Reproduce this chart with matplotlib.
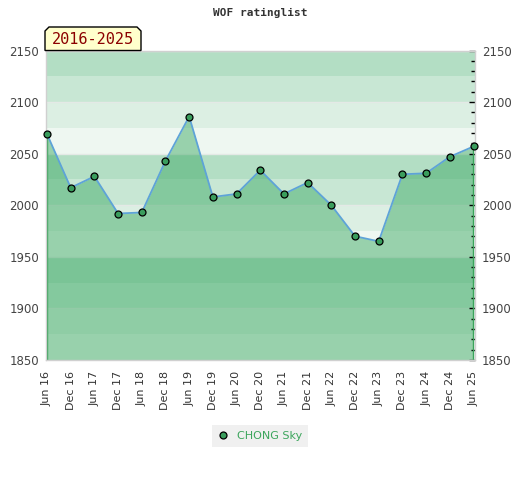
import matplotlib.pyplot as plt
from matplotlib.lines import Line2D
from matplotlib.patches import Polygon
from matplotlib.ticker import MultipleLocator

# data
periods = ['Jun 16', 'Dec 16', 'Jun 17', 'Dec 17', 'Jun 18', 'Dec 18', 'Jun 19',
           'Dec 19', 'Jun 20', 'Dec 20', 'Jun 21', 'Dec 21', 'Jun 22', 'Dec 22',
           'Jun 23', 'Dec 23', 'Jun 24', 'Dec 24', 'Jun 25']
rating = [2069, 2017, 2028, 1992, 1993, 2043, 2086, 2008, 2011, 2034, 2011,
          2022, 2000, 1970, 1965, 2030, 2031, 2047, 2057]
player = 'CHONG Sky'
span_label = '2016-2025'
title = 'WOF ratinglist'
ymin, ymax = 1850, 2150

band_cols = ['#b3dec4', '#c8e7d4', '#dcefe3', '#eef7f1']

fig = plt.figure(figsize=(5.2, 4.8), dpi=100)
ax = fig.add_axes([46 / 520, 1 - 360 / 480, 429 / 520, 309.5 / 480])

x = list(range(len(periods)))

# background bands, 25 points each, cycle from the top
lo = ymax
i = 0
while lo > ymin:
    ax.axhspan(lo - 25, lo, color=band_cols[i % 4], lw=0, zorder=0)
    lo -= 25
    i += 1
for g in range(ymin, ymax + 1, 50):
    ax.axhline(g, color='#e4e9e6', lw=1, zorder=0.5)

ax.fill_between(x, rating, ymin, color='#3faa66', alpha=0.49, lw=0, zorder=1)
ax.vlines([x[0] + 0.02, x[-1] - 0.02], ymin, [rating[0], rating[-1]], color='#3aa35a',
          lw=1, zorder=2)
ax.plot(x, rating, color='#5ea3d8', lw=1.3, zorder=3)
ax.plot(x, rating, ls='none', marker='o', ms=5, mfc='#3a9d5d', mec='black',
        mew=0.9, zorder=4, clip_on=False)

step = 427 / 18
ax.set_xlim(-1 / step, 18 + 1.5 / step)
ax.set_ylim(ymin, ymax)
ax.set_xticks(x)
ax.set_xticklabels(periods, rotation=90, fontsize=8, color='#333333')
ax.set_yticks(range(ymin, ymax + 1, 50))
ax.yaxis.set_minor_locator(MultipleLocator(10))
ax.tick_params(axis='x', length=0, pad=8)
ax.tick_params(axis='y', which='both', left=False, right=True, labelleft=True,
               labelright=True, direction='in', labelsize=8.5)
ax.tick_params(axis='y', which='major', length=4, width=1, pad=5)
ax.tick_params(axis='y', which='minor', length=3, width=1)
for lab in ax.get_yticklabels():
    lab.set_color('#444444')
ax.yaxis.set_tick_params(which='major', labelleft=True)
for s in ax.spines.values():
    s.set_color('#d0d0d0')
    s.set_linewidth(1)

fig.text(0.5, 1 - 13 / 480, title, ha='center', va='center', family='DejaVu Sans Mono',
         fontsize=8, fontweight='bold', color='#333333')

# period tag with cut top corners
bx0, bx1, by0, by1, c = 45, 141, 27, 50.5, 4
pts = [(bx0, by1), (bx0, by0 + c), (bx0 + c, by0), (bx1 - c, by0), (bx1, by0 + c), (bx1, by1)]
tag = Polygon([(px / 520, 1 - py / 480) for px, py in pts], closed=True,
              transform=fig.transFigure, facecolor='#ffffcc', edgecolor='black', lw=1)
fig.patches.append(tag)
fig.text((bx0 + bx1) / 2 / 520, 1 - 39.5 / 480, span_label, ha='center', va='center',
         family='DejaVu Sans Mono', fontsize=11, color='#8b0000')

handle = Line2D([], [], ls='none', marker='o', ms=5, mfc='#3a9d5d', mec='black', mew=0.9)
leg = fig.legend([handle], [player], loc='center', bbox_to_anchor=(0.5, 1 - 436 / 480),
                 fontsize=8, labelcolor='#3ca55c', frameon=True, fancybox=False,
                 facecolor='#f0f0f0', edgecolor='none', framealpha=1,
                 handlelength=1, handletextpad=0.8, borderpad=0.5)

fig.savefig('out.png', dpi=100)
